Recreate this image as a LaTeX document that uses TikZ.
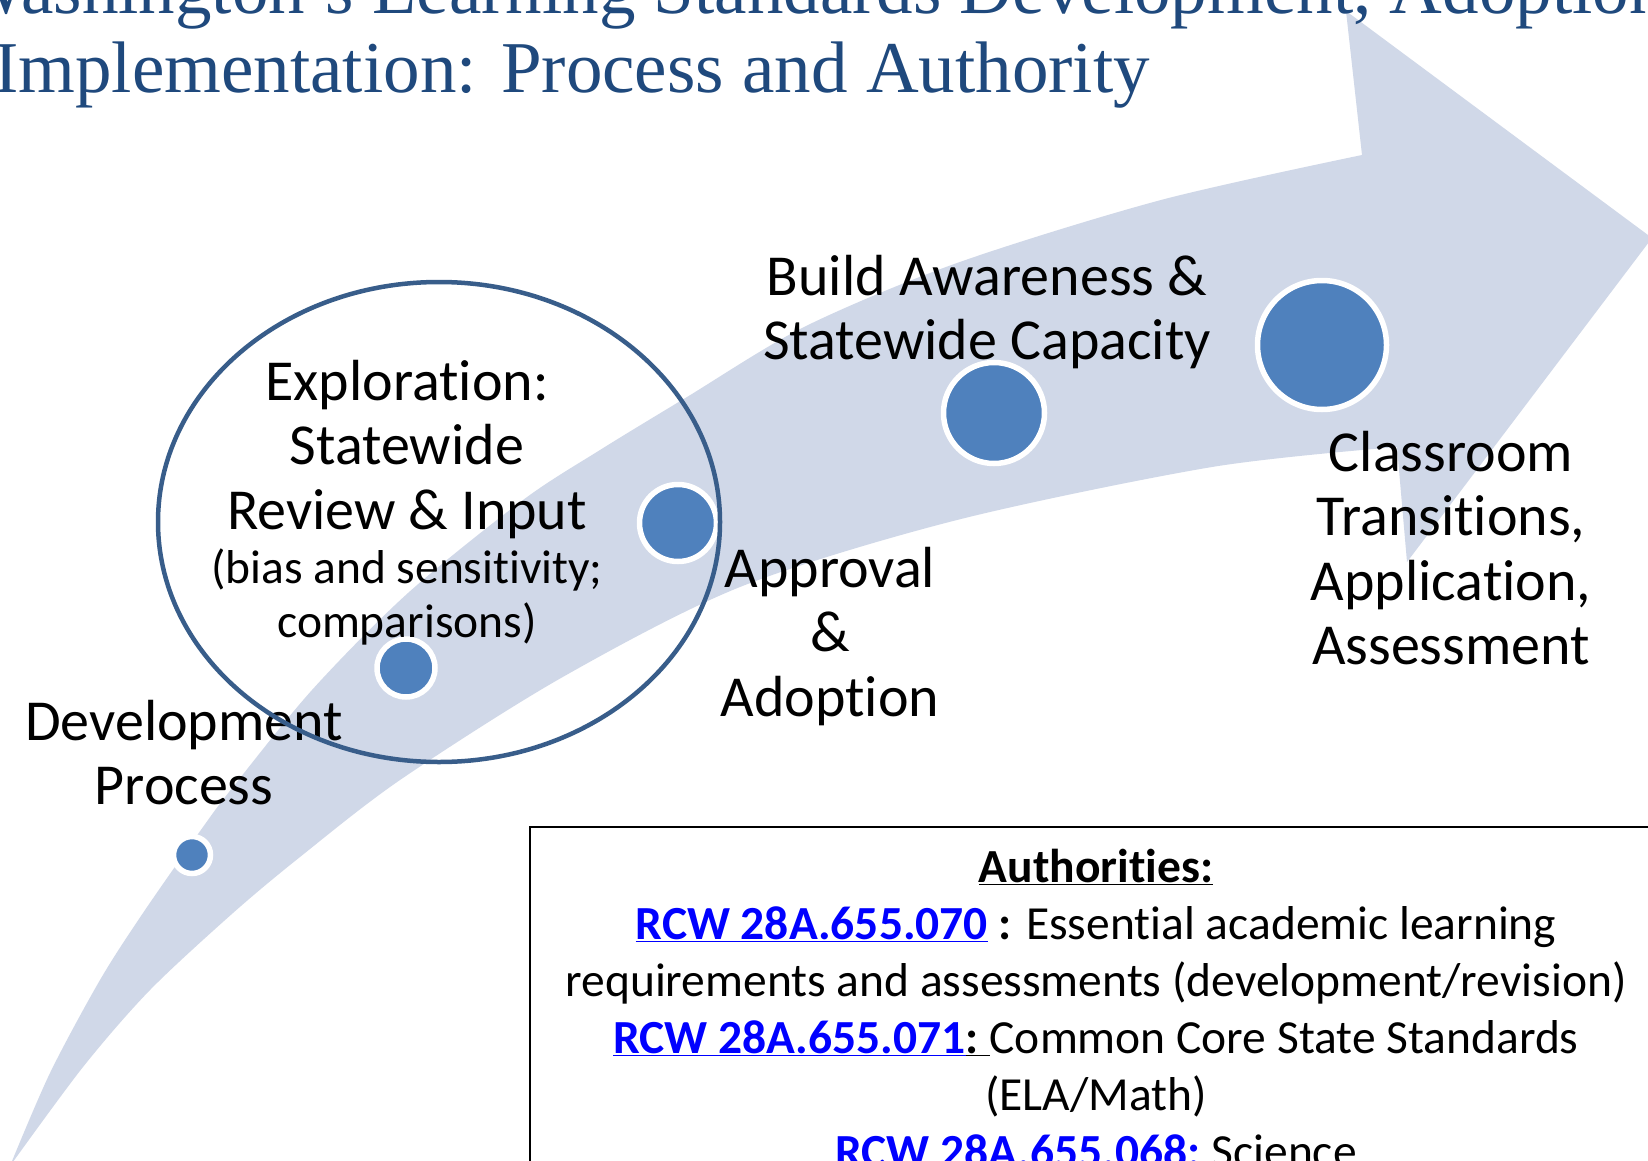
\documentclass[tikz,border=0pt]{standalone}
\usepackage{fontspec}
\setmainfont{Carlito}[Ligatures={NoCommon,NoContextual}]
\newfontfamily\titlefont{Liberation Serif}
\usetikzlibrary{positioning}

\definecolor{bandgray}{RGB}{208,216,232}
\definecolor{dotblue}{RGB}{79,129,189}
\definecolor{ringblue}{RGB}{56,93,138}
\definecolor{titleblue}{RGB}{31,73,125}
\definecolor{linkblue}{RGB}{0,0,255}
\pgfdeclareradialshading{vignette}{\pgfpoint{0bp}{0bp}}{color(0bp)=(white); color(36bp)=(white); color(50bp)=(black!7)}
\newcommand{\rcwlink}[1]{\textcolor{linkblue}{\underline{\textbf{#1}}}}

\tikzset{
  stepdot/.style={circle, fill=dotblue, draw=white, line width=5.5pt, inner sep=0pt, minimum size=#1},
  steplabel/.style={font=\fontsize{58}{64.5}\selectfont, align=center, inner sep=0pt, anchor=base},
  sublabel/.style={font=\fontsize{47.5}{54.5}\selectfont, align=center, inner sep=0pt, anchor=base},
  titletext/.style={font=\titlefont\fontsize{73}{78}\selectfont, text=titleblue, inner sep=0pt, anchor=base west},
  authbox/.style={draw, line width=1.6pt, anchor=north west, minimum width=1134pt, minimum height=400pt, inner sep=0pt},
  authtext/.style={font=\fontsize{47.5}{57}\selectfont, align=center, inner sep=0pt, anchor=base},
  ringline/.style={draw=ringblue, line width=4.5pt}
}

\begin{document}
\begin{tikzpicture}[x=1pt, y=-1pt]
\useasboundingbox (0,0) rectangle (1648,1161);
\clip (0,0) rectangle (1648,1161);
\shade[shading=vignette] (0,0) rectangle (1648,1161);

% curved arrow
\fill[bandgray] plot[smooth] coordinates {(10,1166) (50,1073) (100,980) (143,913) (203,827) (233,787) (312,690) (408,593) (523,500) (600,450) (687,397) (804,327) (957,263) (1161,200) (1362,155)}
  -- (1346,11) -- (1652,238) -- (1407,562) -- (1397,447)
  -- plot[smooth] coordinates {(1397,447) (1212,467) (957,520) (740,587) (561,678) (400,780) (300,857) (233,913) (150,990) (83,1067) (10,1166)} -- cycle;

\foreach \name/\x/\y/\s in {devdot/192/855/37, explordot/406/668/58, approvdot/678/523/77, builddot/994/413/101, classdot/1322/345/129}
    \node[stepdot=\s pt] (\name) at (\x,\y) {};

% base = last line
\node[steplabel] (devel) at (184,804.5) {Development\\Process};
\node[steplabel] (explore) at (407,529) {Exploration:\\Statewide\\Review \& Input};
\node[sublabel] (exploresub) at (407,637.5) {(bias and sensitivity;\\comparisons)};
\node[steplabel] (approval) at (830,716) {Approval\\\&\\Adoption};
\node[steplabel] (build) at (987,359.5) {Build Awareness \&\\Statewide Capacity};
\node[steplabel] (classroom) at (1451,664.5) {Classroom\\Transitions,\\Application,\\Assessment};

\draw[ringline] (439,522) ellipse [x radius=281pt, y radius=240pt];

% authorities
\node[authbox] (authbox) at (529,826) {};
\node[authtext] (authtext) at (1096,1167) {\textbf{\underline{Authorities:}}\\
\rcwlink{RCW 28A.655.070} \textbf{:} Essential academic learning\\
requirements and assessments (development/revision)\\
\rcwlink{RCW 28A.655.071}\underline{\textbf{:\ }}Common Core State Standards\\
(ELA/Math)\\
\rcwlink{RCW 28A.655.068:} Science};

\node[titletext] (title1) at (-42,14) {Washington’s Learning Standards Development, Adoption};
\node[titletext] (title2) at (-6,93) {Implementation: Process and Authority};
%
\end{tikzpicture}
\end{document}
